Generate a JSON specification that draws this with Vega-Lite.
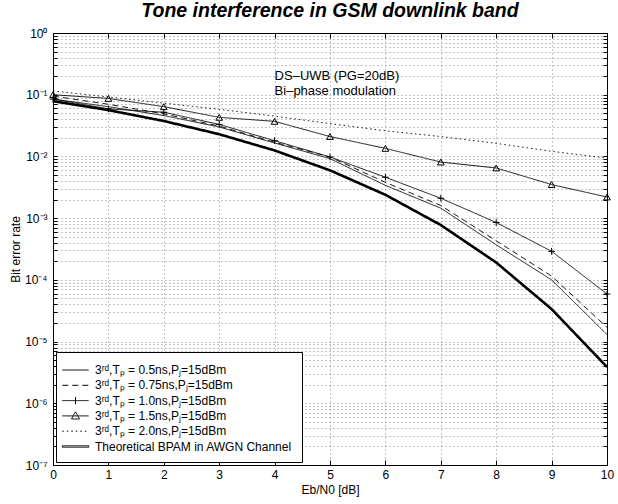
{
  "$schema": "https://vega.github.io/schema/vega-lite/v6.json",
  "width": 554,
  "height": 432,
  "autosize": {"type": "none"},
  "padding": {"left": 53, "top": 33, "right": 11, "bottom": 39},
  "background": "white",
  "config": {
    "view": {"stroke": "black", "strokeWidth": 1},
    "font": "Liberation Sans",
    "axis": {
      "labelFont": "Liberation Sans",
      "labelFontSize": 12,
      "labelColor": "black",
      "titleFont": "Liberation Sans",
      "titleFontSize": 12,
      "titleFontWeight": "normal",
      "titleColor": "black",
      "domainColor": "black",
      "tickColor": "black",
      "gridColor": "#888888",
      "gridDash": [1, 3],
      "gridWidth": 1,
      "labelOverlap": false,
      "labelFlush": false,
      "labelBound": false
    },
    "legend": {
      "orient": "bottom-left", "offset": 3, "title": null, "fillColor": "white", "strokeColor": "black",
      "padding": 9.5, "rowPadding": 0.3, "symbolSize": 256, "symbolStrokeWidth": 1, "symbolStrokeColor": "black", "symbolFillColor": "transparent",
      "symbolOffset": 1.5,
      "labelOffset": 11, "labelFont": "Liberation Sans", "labelFontSize": 12, "labelColor": "black", "labelLimit": 300
    }
  },
  "title": {
    "text": "Tone interference in GSM downlink band",
    "font": "Liberation Sans",
    "fontSize": 19.5,
    "fontStyle": "italic",
    "fontWeight": "bold",
    "color": "black",
    "anchor": "middle",
    "offset": 6
  },
  "data": {
    "values": [
      {"k": "a", "x": 0, "y": 0.085}, {"k": "a", "x": 1, "y": 0.064}, {"k": "a", "x": 2, "y": 0.046}, {"k": "a", "x": 3, "y": 0.030}, {"k": "a", "x": 4, "y": 0.0165}, {"k": "a", "x": 5, "y": 0.0092}, {"k": "a", "x": 6, "y": 0.0034}, {"k": "a", "x": 7, "y": 0.00145}, {"k": "a", "x": 8, "y": 0.00037}, {"k": "a", "x": 9, "y": 0.0001}, {"k": "a", "x": 10, "y": 0.000013},
      {"k": "b", "x": 0, "y": 0.095}, {"k": "b", "x": 1, "y": 0.07}, {"k": "b", "x": 2, "y": 0.049}, {"k": "b", "x": 3, "y": 0.031}, {"k": "b", "x": 4, "y": 0.017}, {"k": "b", "x": 5, "y": 0.0098}, {"k": "b", "x": 6, "y": 0.0038}, {"k": "b", "x": 7, "y": 0.0016}, {"k": "b", "x": 8, "y": 0.00043}, {"k": "b", "x": 9, "y": 0.000115}, {"k": "b", "x": 10, "y": 0.000017},
      {"k": "c", "x": 0, "y": 0.085}, {"k": "c", "x": 1, "y": 0.059}, {"k": "c", "x": 2, "y": 0.052}, {"k": "c", "x": 3, "y": 0.033}, {"k": "c", "x": 4, "y": 0.018}, {"k": "c", "x": 5, "y": 0.0098}, {"k": "c", "x": 6, "y": 0.0046}, {"k": "c", "x": 7, "y": 0.0021}, {"k": "c", "x": 8, "y": 0.00085}, {"k": "c", "x": 9, "y": 0.00029}, {"k": "c", "x": 10, "y": 0.000059},
      {"k": "d", "x": 0, "y": 0.1}, {"k": "d", "x": 1, "y": 0.087}, {"k": "d", "x": 2, "y": 0.064}, {"k": "d", "x": 3, "y": 0.043}, {"k": "d", "x": 4, "y": 0.037}, {"k": "d", "x": 5, "y": 0.021}, {"k": "d", "x": 6, "y": 0.0135}, {"k": "d", "x": 7, "y": 0.0081}, {"k": "d", "x": 8, "y": 0.0065}, {"k": "d", "x": 9, "y": 0.0035}, {"k": "d", "x": 10, "y": 0.0022},
      {"k": "e", "x": 0, "y": 0.115}, {"k": "e", "x": 1, "y": 0.092}, {"k": "e", "x": 2, "y": 0.073}, {"k": "e", "x": 3, "y": 0.058}, {"k": "e", "x": 4, "y": 0.045}, {"k": "e", "x": 5, "y": 0.034}, {"k": "e", "x": 6, "y": 0.026}, {"k": "e", "x": 7, "y": 0.021}, {"k": "e", "x": 8, "y": 0.0163}, {"k": "e", "x": 9, "y": 0.0121}, {"k": "e", "x": 10, "y": 0.0094},
      {"k": "f", "x": 0, "y": 0.0786}, {"k": "f", "x": 1, "y": 0.0563}, {"k": "f", "x": 2, "y": 0.0375}, {"k": "f", "x": 3, "y": 0.0229}, {"k": "f", "x": 4, "y": 0.0125}, {"k": "f", "x": 5, "y": 0.00595}, {"k": "f", "x": 6, "y": 0.00239}, {"k": "f", "x": 7, "y": 0.000773}, {"k": "f", "x": 8, "y": 0.000191}, {"k": "f", "x": 9, "y": 0.0000336}, {"k": "f", "x": 10, "y": 0.00000387}
    ]
  },
  "layer": [
    {
      "mark": {"type": "line", "color": "black"},
      "encoding": {
        "x": {
          "field": "x", "type": "quantitative",
          "scale": {"domain": [0, 10], "nice": false, "zero": false},
          "axis": {"orient": "bottom", "values": [0,1,2,3,4,5,6,7,8,9,10], "format": "d", "grid": true, "tickSize": -5, "labelPadding": 9, "title": "Eb/N0 [dB]", "titlePadding": 4}
        },
        "y": {
          "field": "y", "type": "quantitative",
          "scale": {"type": "log", "domain": [0.0000001, 1], "nice": false},
          "axis": {
            "orient": "left",
            "values": [1e-7,2e-7,3e-7,4e-7,5e-7,6e-7,7e-7,8e-7,9e-7,1e-6,2e-6,3e-6,4e-6,5e-6,6e-6,7e-6,8e-6,9e-6,1e-5,2e-5,3e-5,4e-5,5e-5,6e-5,7e-5,8e-5,9e-5,0.0001,0.0002,0.0003,0.0004,0.0005,0.0006,0.0007,0.0008,0.0009,0.001,0.002,0.003,0.004,0.005,0.006,0.007,0.008,0.009,0.01,0.02,0.03,0.04,0.05,0.06,0.07,0.08,0.09,0.1,0.2,0.3,0.4,0.5,0.6,0.7,0.8,0.9,1],
            "labelExpr": "abs(log(datum.value)/LN10 - round(log(datum.value)/LN10)) < 0.001 ? (round(log(datum.value)/LN10) == 0 ? '10⁰' : '10⁻' + ['⁰','¹','²','³','⁴','⁵','⁶','⁷'][-round(log(datum.value)/LN10)]) : ''",
            "grid": true, "tickSize": -4, "labelPadding": 10, "title": "Bit error rate", "titlePadding": 2
          }
        },
        "strokeDash": {
          "field": "k", "type": "nominal",
          "scale": {"domain": ["a","b","c","d","e","f"], "range": [[1,0],[6,4],[1,0],[1,0],[1.5,3],[1,0]]},
          "legend": {
            "labelExpr": "{'a':'3ʳᵈ,Tₚ = 0.5ns,Pⱼ=15dBm','b':'3ʳᵈ,Tₚ = 0.75ns,Pⱼ=15dBm','c':'3ʳᵈ,Tₚ = 1.0ns,Pⱼ=15dBm','d':'3ʳᵈ,Tₚ = 1.5ns,Pⱼ=15dBm','e':'3ʳᵈ,Tₚ = 2.0ns,Pⱼ=15dBm','f':'Theoretical BPAM in AWGN Channel'}[datum.value]"
          }
        },
        "strokeWidth": {"condition": {"test": "datum.k == 'f'", "value": 2.6}, "value": 0.9}
      }
    },
    {
      "transform": [{"filter": "datum.k == 'c'"}],
      "mark": {"type": "point", "shape": "M-1,0H1M0,-1V1", "filled": false, "color": "black", "strokeWidth": 1, "opacity": 1, "size": 45},
      "encoding": {
        "x": {
          "field": "x", "type": "quantitative",
          "axis": {"orient": "top", "values": [0,1,2,3,4,5,6,7,8,9,10], "labels": false, "grid": false, "tickSize": -5, "title": null}
        },
        "y": {
          "field": "y", "type": "quantitative",
          "axis": {
            "orient": "right",
            "values": [1e-7,2e-7,3e-7,4e-7,5e-7,6e-7,7e-7,8e-7,9e-7,1e-6,2e-6,3e-6,4e-6,5e-6,6e-6,7e-6,8e-6,9e-6,1e-5,2e-5,3e-5,4e-5,5e-5,6e-5,7e-5,8e-5,9e-5,0.0001,0.0002,0.0003,0.0004,0.0005,0.0006,0.0007,0.0008,0.0009,0.001,0.002,0.003,0.004,0.005,0.006,0.007,0.008,0.009,0.01,0.02,0.03,0.04,0.05,0.06,0.07,0.08,0.09,0.1,0.2,0.3,0.4,0.5,0.6,0.7,0.8,0.9,1],
            "labels": false, "grid": false, "tickSize": -4, "title": null
          }
        }
      }
    },
    {
      "transform": [{"filter": "datum.k == 'd'"}],
      "mark": {"type": "point", "shape": "triangle-up", "filled": false, "color": "black", "strokeWidth": 1, "opacity": 1, "size": 45},
      "encoding": {
        "x": {"field": "x", "type": "quantitative", "axis": null},
        "y": {"field": "y", "type": "quantitative", "axis": null}
      }
    },
    {
      "transform": [{"filter": "datum.x > 100"}],
      "mark": {"type": "point", "filled": false, "color": "black", "strokeWidth": 1, "opacity": 1},
      "encoding": {
        "x": {"field": "x", "type": "quantitative", "axis": null},
        "y": {"field": "y", "type": "quantitative", "axis": null},
        "shape": {
          "field": "k", "type": "nominal",
          "scale": {"domain": ["a","b","c","d","e","f"], "range": ["M-1.65,0H1.65", "M-1.65,0H1.65", "M-1.65,0H1.65M0,-0.45V0.45", "M-1.65,0H1.65M-0.5,0.38L0,-0.5L0.5,0.38Z", "M-1.65,0H1.65", "M-1.65,-0.09H1.65V0.09H-1.65Z"]},
          "legend": {
            "labelExpr": "{'a':'3ʳᵈ,Tₚ = 0.5ns,Pⱼ=15dBm','b':'3ʳᵈ,Tₚ = 0.75ns,Pⱼ=15dBm','c':'3ʳᵈ,Tₚ = 1.0ns,Pⱼ=15dBm','d':'3ʳᵈ,Tₚ = 1.5ns,Pⱼ=15dBm','e':'3ʳᵈ,Tₚ = 2.0ns,Pⱼ=15dBm','f':'Theoretical BPAM in AWGN Channel'}[datum.value]"
          }
        },
        "strokeDash": {
          "field": "k", "type": "nominal",
          "legend": {
            "labelExpr": "{'a':'3ʳᵈ,Tₚ = 0.5ns,Pⱼ=15dBm','b':'3ʳᵈ,Tₚ = 0.75ns,Pⱼ=15dBm','c':'3ʳᵈ,Tₚ = 1.0ns,Pⱼ=15dBm','d':'3ʳᵈ,Tₚ = 1.5ns,Pⱼ=15dBm','e':'3ʳᵈ,Tₚ = 2.0ns,Pⱼ=15dBm','f':'Theoretical BPAM in AWGN Channel'}[datum.value]"
          }
        }
      }
    },
    {
      "data": {"values": [{"t": "note"}]},
      "mark": {"type": "text", "align": "left", "baseline": "middle", "font": "Liberation Sans", "fontSize": 13, "lineHeight": 15, "color": "black"},
      "encoding": {
        "x": {"datum": 4.0, "type": "quantitative", "axis": null},
        "y": {"datum": 0.2, "type": "quantitative", "axis": null},
        "text": {"value": ["DS–UWB (PG=20dB)", "Bi–phase modulation"]}
      }
    }
  ],
  "resolve": {"axis": {"x": "independent", "y": "independent"}}
}
